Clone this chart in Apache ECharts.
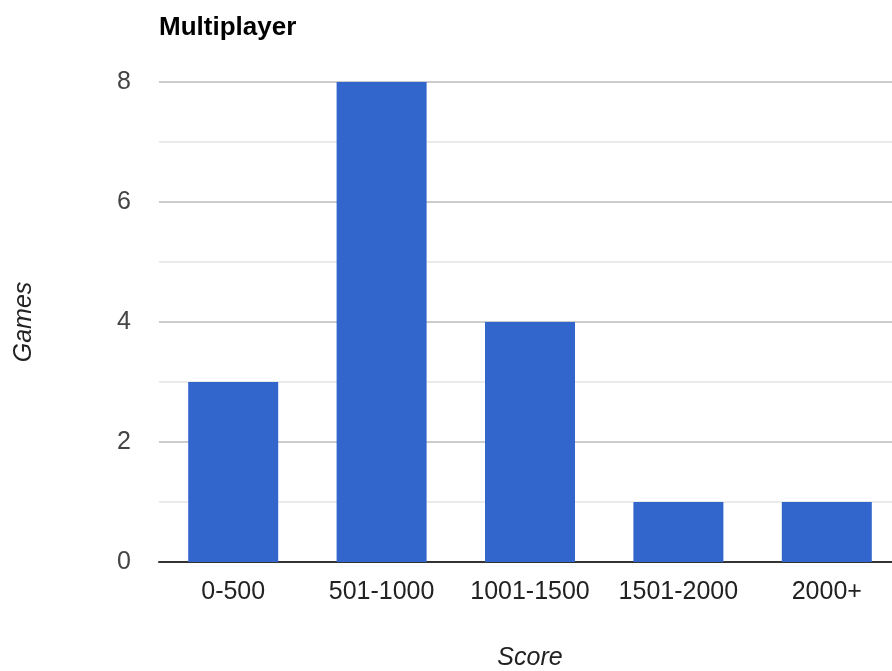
<!DOCTYPE html>
<html><head><meta charset="utf-8">
<script src="https://cdn.jsdelivr.net/npm/echarts@6/dist/echarts.min.js"></script>
<style>html,body{margin:0;padding:0;background:#fff}#c{width:892px;height:671px}</style>
</head><body><div id="c"></div>
<script>
const categories = ['0-500', '501-1000', '1001-1500', '1501-2000', '2000+'];
const games = [3, 8, 4, 1, 1];
const yTicks = [0, 2, 4, 6, 8];

const chart = echarts.init(document.getElementById('c'), null, {renderer: 'canvas'});
const F = 'Arial, "Liberation Sans", sans-serif';
chart.setOption({
  animation: false,
  title: {
    text: 'Multiplayer', left: 154, top: 10,
    textStyle: {fontFamily: F, fontSize: 26, fontWeight: 'bold', color: '#000'}
  },
  grid: {left: 159, top: 82, width: 742, height: 480, containLabel: false, outerBoundsMode: 'none'},
  xAxis: {
    type: 'category', data: categories,
    name: 'Score', nameLocation: 'middle', nameGap: 84,
    nameTextStyle: {fontFamily: F, fontSize: 25, fontStyle: 'italic', color: '#222'},
    axisLine: {lineStyle: {color: '#333', width: 2}},
    axisTick: {show: false},
    axisLabel: {fontFamily: F, fontSize: 25, color: '#222', margin: 18, interval: 0, hideOverlap: false}
  },
  yAxis: {
    type: 'value', min: yTicks[0], max: yTicks[yTicks.length - 1], interval: 2,
    name: 'Games', nameLocation: 'middle', nameGap: 122, nameRotate: 90,
    nameTextStyle: {fontFamily: F, fontSize: 25, fontStyle: 'italic', color: '#222'},
    axisLine: {show: false}, axisTick: {show: false},
    axisLabel: {fontFamily: F, fontSize: 25, color: '#444', margin: 28},
    splitLine: {lineStyle: {color: '#ccc', width: 2}},
    minorTick: {show: false, splitNumber: 2},
    minorSplitLine: {show: true, lineStyle: {color: '#ebebeb', width: 2}}
  },
  series: [{
    type: 'bar', data: games, barWidth: 90,
    itemStyle: {color: '#3366cc'}
  }]
});
</script></body></html>
